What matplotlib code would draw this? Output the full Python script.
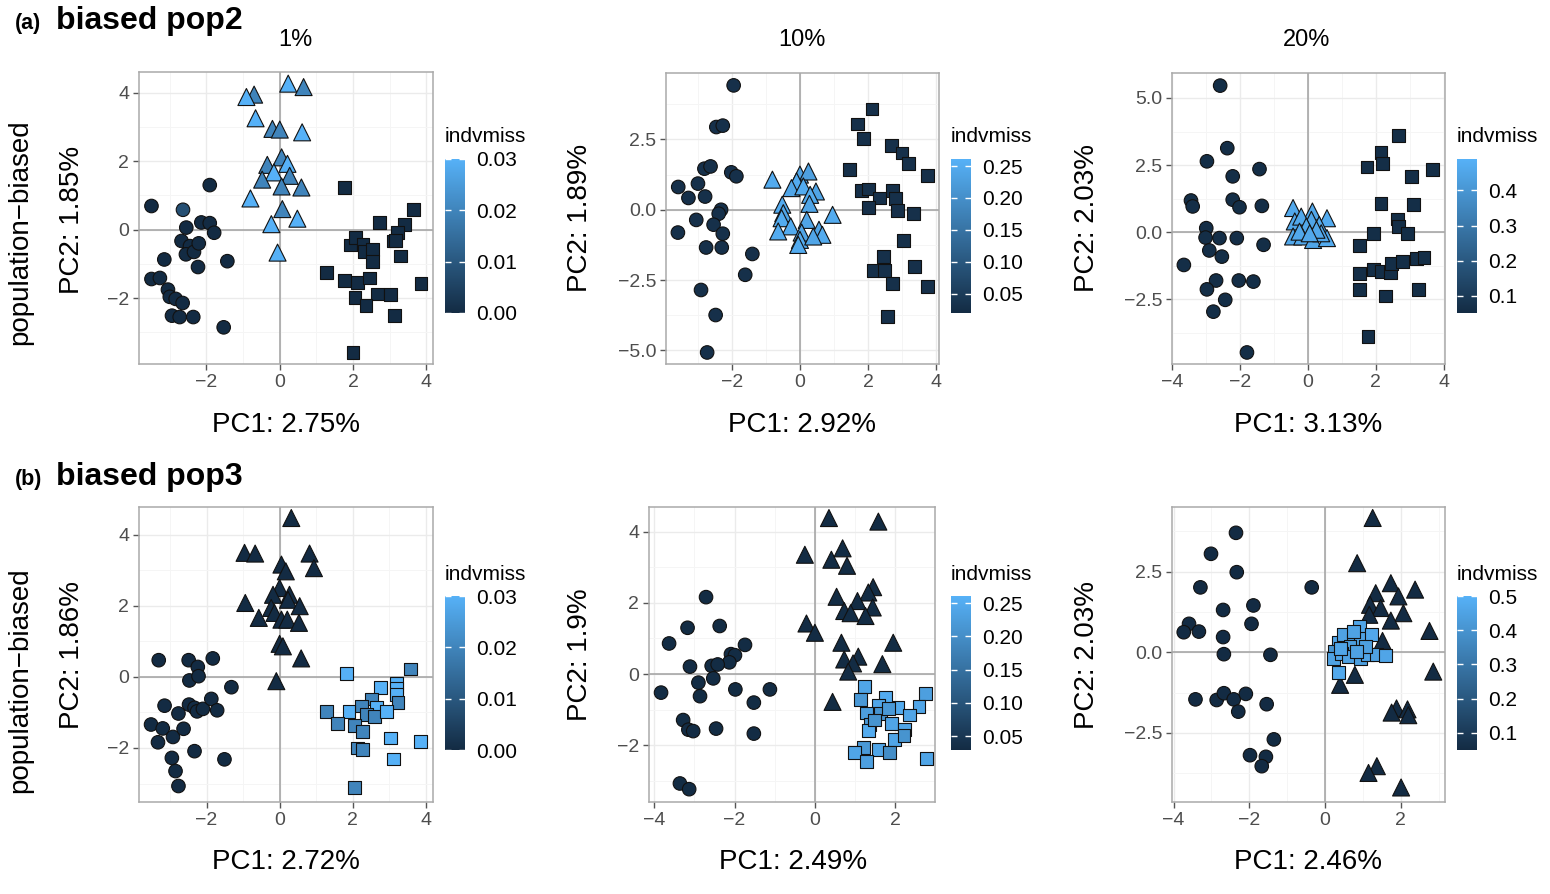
import matplotlib
matplotlib.use('Agg')
import matplotlib.pyplot as plt
from matplotlib.colors import LinearSegmentedColormap, Normalize
from matplotlib.cm import ScalarMappable

plt.rcParams['font.family'] = ['Liberation Sans', 'DejaVu Sans']

# ---- data: (PC1, PC2, indvmiss) per sample, grouped by population shape ----
# (a) biased pop2, 1%
a1_circles = [(-3.50, 0.69, 0.0), (-2.64, 0.58, 0.008), (-1.91, 1.30, 0.0), (-3.15, -0.87, 0.0),
              (-3.50, -1.44, 0.0), (-3.27, -1.41, 0.0), (-3.05, -1.75, 0.0), (-3.00, -1.96, 0.0),
              (-2.84, -2.02, 0.0), (-2.65, -2.14, 0.0), (-2.94, -2.51, 0.0), (-2.73, -2.55, 0.0),
              (-2.36, -2.55, 0.0), (-1.53, -2.85, 0.0), (-2.55, 0.06, 0.0), (-2.68, -0.33, 0.0),
              (-2.45, -0.48, 0.0), (-2.56, -0.72, 0.0), (-2.34, -0.65, 0.0), (-2.21, -0.40, 0.0),
              (-2.14, 0.21, 0.0), (-1.91, 0.19, 0.0), (-1.79, -0.09, 0.0), (-2.23, -1.09, 0.0),
              (-1.43, -0.92, 0.0)]
a1_triangles = [(-0.70, 3.94, 0.02), (-0.91, 3.87, 0.03), (0.23, 4.26, 0.03), (0.65, 4.16, 0.02),
                (-0.66, 3.25, 0.03), (-0.20, 2.94, 0.02), (0.00, 2.92, 0.02), (0.61, 2.84, 0.03),
                (0.05, 2.11, 0.02), (-0.34, 1.89, 0.02), (0.21, 1.92, 0.03), (-0.16, 1.67, 0.03),
                (0.27, 1.57, 0.02), (-0.48, 1.46, 0.02), (0.05, 1.26, 0.02), (0.59, 1.23, 0.02),
                (-0.80, 0.91, 0.03), (0.07, 0.60, 0.02), (0.48, 0.32, 0.03), (-0.23, 0.16, 0.03),
                (-0.06, -0.67, 0.03)]
a1_squares = [(1.77, 1.23, 0.0), (2.71, 0.21, 0.0), (3.65, 0.58, 0.0), (3.41, 0.16, 0.0),
              (3.21, -0.09, 0.0), (3.09, -0.33, 0.0), (3.16, -0.31, 0.0), (3.30, -0.77, 0.0),
              (1.93, -0.45, 0.0), (2.07, -0.23, 0.0), (2.27, -0.43, 0.0), (2.30, -0.63, 0.0),
              (2.53, -0.58, 0.0), (2.52, -0.92, 0.0), (1.27, -1.26, 0.0), (1.77, -1.48, 0.0),
              (2.12, -1.55, 0.0), (2.45, -1.41, 0.0), (3.85, -1.58, 0.0), (2.66, -1.88, 0.0),
              (3.02, -1.90, 0.0), (2.05, -1.99, 0.0), (2.35, -2.22, 0.0), (3.12, -2.51, 0.0),
              (2.00, -3.58, 0.0)]

# (a) biased pop2, 10%
a2_circles = [(-1.95, 4.42, 0.03), (-2.46, 2.94, 0.03), (-2.27, 2.99, 0.03), (-2.81, 1.46, 0.03),
              (-2.63, 1.54, 0.03), (-3.00, 0.93, 0.03), (-3.58, 0.81, 0.03), (-3.28, 0.42, 0.03),
              (-2.79, 0.47, 0.03), (-2.02, 1.33, 0.03), (-1.87, 1.19, 0.03), (-2.32, 0.00, 0.03),
              (-2.39, -0.14, 0.03), (-3.05, -0.36, 0.03), (-2.54, -0.53, 0.03), (-3.59, -0.81, 0.03),
              (-2.27, -0.85, 0.03), (-2.76, -1.34, 0.03), (-2.30, -1.34, 0.03), (-1.40, -1.57, 0.03),
              (-1.61, -2.31, 0.03), (-2.91, -2.85, 0.03), (-2.48, -3.74, 0.03), (-2.73, -5.07, 0.03)]
a2_triangles = [(-0.81, 1.07, 0.25), (0.00, 1.25, 0.24), (0.25, 1.36, 0.23), (-0.10, 1.01, 0.25),
                (-0.25, 0.77, 0.24), (0.10, 0.83, 0.25), (0.47, 0.65, 0.24), (0.30, 0.53, 0.25),
                (0.28, 0.21, 0.24), (-0.52, 0.18, 0.25), (-0.49, -0.12, 0.24), (-0.54, -0.30, 0.25),
                (0.96, -0.18, 0.25), (0.20, -0.36, 0.24), (-0.27, -0.59, 0.25), (-0.64, -0.77, 0.25),
                (0.56, -0.71, 0.24), (0.66, -0.89, 0.25), (0.05, -0.81, 0.24), (0.00, -1.07, 0.25),
                (-0.05, -1.25, 0.25), (0.39, -0.95, 0.24)]
a2_squares = [(2.12, 3.58, 0.03), (1.70, 3.05, 0.03), (1.87, 2.53, 0.03), (2.69, 2.29, 0.03),
              (3.00, 2.02, 0.03), (3.20, 1.64, 0.03), (3.76, 1.21, 0.03), (1.45, 1.42, 0.03),
              (1.80, 0.68, 0.03), (2.02, 0.74, 0.03), (2.73, 0.68, 0.03), (2.33, 0.42, 0.03),
              (2.81, 0.39, 0.03), (2.02, 0.09, 0.03), (2.88, -0.02, 0.03), (3.35, -0.12, 0.03),
              (3.05, -1.10, 0.03), (2.46, -1.66, 0.03), (2.15, -2.16, 0.03), (2.48, -2.16, 0.03),
              (3.38, -2.02, 0.03), (2.73, -2.63, 0.03), (3.76, -2.73, 0.03), (2.58, -3.80, 0.03)]

# (a) biased pop2, 20%
a3_circles = [(-2.59, 5.46, 0.06), (-2.38, 3.13, 0.06), (-2.98, 2.64, 0.06), (-2.22, 2.08, 0.06),
              (-1.43, 2.35, 0.06), (-3.45, 1.18, 0.06), (-3.40, 0.96, 0.06), (-2.22, 1.21, 0.06),
              (-2.02, 0.93, 0.06), (-1.36, 0.98, 0.06), (-3.00, 0.15, 0.06), (-3.02, -0.20, 0.06),
              (-2.61, -0.22, 0.06), (-2.10, -0.22, 0.06), (-1.31, -0.47, 0.06), (-2.91, -0.68, 0.06),
              (-2.54, -0.91, 0.06), (-3.66, -1.22, 0.06), (-2.71, -1.80, 0.06), (-2.98, -2.13, 0.06),
              (-2.04, -1.80, 0.06), (-1.61, -1.84, 0.06), (-2.44, -2.52, 0.06), (-2.79, -2.96, 0.06),
              (-1.80, -4.48, 0.06)]
a3_triangles = [(-0.44, 0.90, 0.46), (0.13, 0.77, 0.46), (0.56, 0.52, 0.47), (-0.39, 0.40, 0.46),
                (0.10, 0.46, 0.45), (-0.20, 0.58, 0.46), (-0.05, 0.21, 0.46), (0.33, 0.27, 0.47),
                (-0.44, -0.16, 0.46), (-0.17, -0.16, 0.46), (0.15, -0.29, 0.45), (0.56, -0.22, 0.47),
                (0.39, -0.04, 0.46), (0.25, 0.09, 0.46), (-0.25, 0.02, 0.46), (0.05, -0.04, 0.46)]
a3_squares = [(2.68, 3.59, 0.06), (2.15, 2.97, 0.06), (2.19, 2.57, 0.06), (1.74, 2.43, 0.06),
              (3.67, 2.33, 0.06), (3.05, 2.08, 0.06), (2.15, 1.08, 0.06), (3.10, 1.02, 0.06),
              (2.64, 0.49, 0.06), (2.66, 0.21, 0.06), (2.93, -0.04, 0.06), (1.94, -0.06, 0.06),
              (1.51, -0.51, 0.06), (1.53, -1.53, 0.06), (1.92, -1.38, 0.06), (2.17, -1.47, 0.06),
              (2.43, -1.50, 0.06), (2.46, -1.18, 0.06), (2.78, -1.09, 0.06), (3.20, -0.97, 0.06),
              (3.42, -0.95, 0.06), (1.53, -2.13, 0.06), (2.29, -2.38, 0.06), (3.25, -2.13, 0.06),
              (1.77, -3.89, 0.06)]

# (b) biased pop3, 1%
b1_circles = [(-3.31, 0.47, 0.0), (-2.49, 0.47, 0.0), (-2.24, 0.28, 0.0), (-1.83, 0.52, 0.0),
              (-2.47, -0.10, 0.0), (-2.22, 0.02, 0.0), (-1.32, -0.29, 0.0), (-3.15, -0.81, 0.0),
              (-2.77, -1.03, 0.0), (-2.48, -0.78, 0.0), (-2.33, -0.87, 0.0), (-2.26, -0.97, 0.0),
              (-2.10, -0.90, 0.0), (-1.87, -0.62, 0.0), (-1.71, -0.94, 0.0), (-3.52, -1.34, 0.0),
              (-3.20, -1.45, 0.0), (-2.92, -1.69, 0.0), (-2.63, -1.46, 0.0), (-3.33, -1.84, 0.0),
              (-2.33, -2.09, 0.0), (-2.95, -2.28, 0.0), (-2.85, -2.65, 0.0), (-2.77, -3.07, 0.0),
              (-1.51, -2.32, 0.0)]
b1_triangles = [(0.32, 4.47, 0.0), (-0.96, 3.49, 0.0), (-0.67, 3.47, 0.0), (0.82, 3.47, 0.0),
                (0.05, 3.16, 0.0), (0.17, 2.97, 0.0), (0.94, 3.06, 0.0), (0.00, 2.50, 0.0),
                (-0.18, 2.31, 0.0), (0.27, 2.31, 0.0), (0.23, 2.17, 0.0), (-0.94, 2.08, 0.0),
                (0.55, 1.99, 0.0), (-0.23, 1.94, 0.0), (-0.14, 1.80, 0.0), (-0.57, 1.66, 0.0),
                (0.05, 1.61, 0.0), (0.21, 1.61, 0.0), (0.53, 1.52, 0.0), (0.00, 0.93, 0.0),
                (0.09, 0.86, 0.0), (0.59, 0.52, 0.0), (-0.09, -0.12, 0.0)]
b1_squares = [(1.83, 0.09, 0.03), (3.58, 0.22, 0.02), (3.20, -0.17, 0.03), (2.77, -0.29, 0.03),
              (3.21, -0.31, 0.03), (3.20, -0.50, 0.03), (3.24, -0.73, 0.02), (2.51, -0.62, 0.02),
              (2.24, -0.82, 0.02), (2.65, -0.87, 0.03), (2.37, -1.06, 0.02), (2.60, -1.11, 0.02),
              (2.92, -0.98, 0.03), (1.90, -0.97, 0.03), (1.28, -0.97, 0.02), (1.58, -1.31, 0.02),
              (2.05, -1.36, 0.02), (2.28, -1.53, 0.02), (3.04, -1.72, 0.03), (3.85, -1.81, 0.03),
              (2.13, -2.00, 0.02), (2.28, -2.04, 0.02), (3.11, -2.31, 0.03), (2.05, -3.12, 0.02)]

# (b) biased pop3, 10%
b2_circles = [(-2.71, 2.16, 0.03), (-3.63, 0.86, 0.03), (-3.17, 1.30, 0.03), (-2.37, 1.35, 0.03),
              (-1.74, 0.82, 0.03), (-2.09, 0.56, 0.03), (-1.99, 0.53, 0.03), (-2.13, 0.33, 0.03),
              (-3.11, 0.21, 0.03), (-2.57, 0.23, 0.03), (-2.42, 0.27, 0.03), (-2.53, -0.12, 0.03),
              (-2.90, -0.24, 0.03), (-3.83, -0.52, 0.03), (-2.86, -0.62, 0.03), (-1.98, -0.43, 0.03),
              (-1.12, -0.43, 0.03), (-1.52, -0.80, 0.03), (-3.28, -1.29, 0.03), (-3.15, -1.56, 0.03),
              (-3.03, -1.60, 0.03), (-2.46, -1.53, 0.03), (-1.52, -1.67, 0.03), (-3.36, -3.07, 0.03),
              (-3.13, -3.23, 0.03)]
b2_triangles = [(0.35, 4.38, 0.03), (1.58, 4.28, 0.03), (-0.25, 3.35, 0.03), (0.41, 3.21, 0.03),
                (0.69, 3.53, 0.03), (0.80, 3.04, 0.03), (1.45, 2.44, 0.03), (1.33, 2.29, 0.03),
                (0.54, 2.17, 0.03), (1.06, 2.05, 0.03), (1.44, 1.87, 0.03), (0.73, 1.77, 0.03),
                (0.89, 1.71, 0.03), (1.26, 1.63, 0.03), (-0.21, 1.42, 0.03), (0.00, 1.16, 0.03),
                (0.66, 0.88, 0.03), (1.95, 0.88, 0.03), (0.73, 0.41, 0.03), (1.08, 0.49, 0.03),
                (0.95, 0.30, 0.03), (1.68, 0.28, 0.03), (0.83, 0.07, 0.03), (0.44, -0.78, 0.03)]
b2_squares = [(1.23, -0.34, 0.24), (1.14, -0.71, 0.22), (2.76, -0.54, 0.23), (1.76, -0.66, 0.25),
              (1.59, -0.87, 0.24), (2.07, -0.94, 0.25), (2.59, -0.90, 0.24), (1.29, -1.09, 0.23),
              (1.64, -1.11, 0.21), (1.83, -0.97, 0.22), (2.35, -1.15, 0.24), (1.37, -1.41, 0.22),
              (1.91, -1.39, 0.24), (2.24, -1.56, 0.24), (1.33, -1.59, 0.25), (1.99, -1.84, 0.24),
              (1.20, -2.06, 0.22), (0.98, -2.21, 0.24), (1.58, -2.12, 0.24), (1.85, -2.21, 0.20),
              (1.29, -2.45, 0.23), (2.78, -2.37, 0.24), (2.22, -1.72, 0.21), (1.49, -1.29, 0.21)]

# (b) biased pop3, 20%
b3_circles = [(-2.35, 3.70, 0.05), (-3.01, 3.05, 0.05), (-2.33, 2.48, 0.05), (-3.29, 2.01, 0.05),
              (-0.35, 2.01, 0.05), (-2.69, 1.31, 0.05), (-1.89, 1.45, 0.05), (-3.59, 0.88, 0.05),
              (-3.73, 0.62, 0.05), (-3.33, 0.64, 0.05), (-1.94, 0.88, 0.05), (-2.69, 0.47, 0.05),
              (-2.67, -0.06, 0.05), (-1.44, -0.08, 0.05), (-3.42, -1.46, 0.05), (-2.86, -1.48, 0.05),
              (-2.67, -1.27, 0.05), (-2.41, -1.46, 0.05), (-2.09, -1.29, 0.05), (-2.29, -1.84, 0.05),
              (-1.54, -1.61, 0.05), (-1.35, -2.70, 0.05), (-1.98, -3.19, 0.05), (-1.56, -3.24, 0.05),
              (-1.67, -3.53, 0.05)]
b3_triangles = [(1.26, 4.16, 0.05), (0.85, 2.76, 0.05), (1.74, 2.14, 0.05), (2.38, 1.94, 0.05),
                (1.34, 1.83, 0.05), (1.94, 1.73, 0.05), (1.19, 1.47, 0.05), (1.47, 1.37, 0.05),
                (2.07, 1.21, 0.05), (1.17, 1.16, 0.05), (1.74, 0.98, 0.05), (2.76, 0.66, 0.05),
                (1.52, 0.35, 0.05), (0.79, -0.70, 0.05), (0.40, -1.01, 0.05), (2.86, -0.60, 0.05),
                (1.89, -1.74, 0.05), (1.76, -1.87, 0.05), (2.18, -1.77, 0.05), (2.20, -1.95, 0.05),
                (1.37, -3.53, 0.05), (1.15, -3.74, 0.05), (2.01, -4.19, 0.05)]
b3_squares = [(0.35, 0.30, 0.46), (0.48, 0.54, 0.45), (0.75, 0.38, 0.44), (0.91, 0.80, 0.46),
              (0.94, 0.43, 0.45), (1.23, 0.54, 0.47), (0.66, 0.18, 0.44), (0.26, 0.02, 0.40),
              (0.22, -0.19, 0.45), (0.44, -0.03, 0.46), (0.62, -0.13, 0.45), (0.93, -0.19, 0.44),
              (1.12, -0.08, 0.46), (1.37, -0.08, 0.45), (1.59, -0.10, 0.46), (0.35, -0.63, 0.47),
              (0.75, 0.64, 0.45), (1.06, 0.18, 0.44), (0.84, 0.02, 0.45), (0.40, 0.12, 0.46)]

# axis titles and colour ranges
pc1_labels = ['PC1: 2.75%', 'PC1: 2.92%', 'PC1: 3.13%', 'PC1: 2.72%', 'PC1: 2.49%', 'PC1: 2.46%']
pc2_labels = ['PC2: 1.85%', 'PC2: 1.89%', 'PC2: 2.03%', 'PC2: 1.86%', 'PC2: 1.9%', 'PC2: 2.03%']
col_titles = ['1%', '10%', '20%']
miss_ranges = [(0.0, 0.03), (0.02, 0.261), (0.05, 0.49), (0.0, 0.03), (0.029, 0.261), (0.05, 0.5)]
miss_ticks = [[0.0, 0.01, 0.02, 0.03], [0.05, 0.10, 0.15, 0.20, 0.25], [0.1, 0.2, 0.3, 0.4],
              [0.0, 0.01, 0.02, 0.03], [0.05, 0.10, 0.15, 0.20, 0.25], [0.1, 0.2, 0.3, 0.4, 0.5]]
miss_ticklabels = [['0.00', '0.01', '0.02', '0.03'], ['0.05', '0.10', '0.15', '0.20', '0.25'],
                   ['0.1', '0.2', '0.3', '0.4'], ['0.00', '0.01', '0.02', '0.03'],
                   ['0.05', '0.10', '0.15', '0.20', '0.25'], ['0.1', '0.2', '0.3', '0.4', '0.5']]

W, H = 1550, 894
fig = plt.figure(figsize=(W / 100, H / 100), dpi=100)
cmap = LinearSegmentedColormap.from_list('gg', ['#132B43', '#56B1F7'])
MINUS = '\u2212'


def px_axes(l, t, r, b):
    return fig.add_axes([l / W, 1 - b / H, (r - l) / W, (b - t) / H])


def fmt(v, dec):
    s = f'{abs(v):.{dec}f}' if dec else f'{abs(v):.0f}'
    return (MINUS + s) if v < 0 else s


def panel(box, cbox, groups, xlim, ylim, xticks, yticks, ydec, k):
    ax = px_axes(*box)
    norm = Normalize(*miss_ranges[k])
    for pts, mk, s in zip(groups, ['o', '^', 's'], [95, 150, 85]):
        xs = [p[0] for p in pts]
        ys = [p[1] for p in pts]
        ms = [p[2] for p in pts]
        ax.scatter(xs, ys, c=ms, cmap=cmap, norm=norm, marker=mk, s=s,
                   edgecolors='#111111', linewidths=0.8, zorder=3)
    ax.set_xticks(xticks)
    ax.set_xticklabels([fmt(v, 0) for v in xticks])
    ax.set_yticks(yticks)
    ax.set_yticklabels([fmt(v, ydec) for v in yticks])
    dx = (xticks[1] - xticks[0]) / 2
    dy = (yticks[1] - yticks[0]) / 2
    ax.set_xticks([v - dx for v in xticks] + [xticks[-1] + dx], minor=True)
    ax.set_yticks([v - dy for v in yticks] + [yticks[-1] + dy], minor=True)
    # limits after ticks, since set_ticks widens the view
    ax.set_xlim(*xlim)
    ax.set_ylim(*ylim)
    ax.grid(which='major', color='#EBEBEB', lw=1.0, zorder=0)
    ax.grid(which='minor', color='#F5F5F5', lw=0.7, zorder=0)
    ax.set_axisbelow(True)
    ax.axhline(0, color='#A0A0A0', lw=1.1, zorder=1)
    ax.axvline(0, color='#A0A0A0', lw=1.1, zorder=1)
    for sp in ax.spines.values():
        sp.set_color('#AAAAAA')
        sp.set_linewidth(1.1)
    ax.tick_params(which='major', direction='out', length=4, width=1, color='#555555',
                   labelsize=14, labelcolor='#4D4D4D', pad=3)
    ax.tick_params(which='minor', length=0)

    cax = px_axes(*cbox)
    cb = fig.colorbar(ScalarMappable(norm=norm, cmap=cmap), cax=cax)
    cb.outline.set_visible(False)
    cb.set_ticks(miss_ticks[k])
    cb.set_ticklabels(miss_ticklabels[k])
    cax.tick_params(direction='in', length=4, width=1, color='white', left=True, right=True,
                    labelleft=False, labelright=True, labelsize=15, labelcolor='black', pad=8)
    fig.text(cbox[0] / W, 1 - (cbox[1] - 22) / H, 'indvmiss', fontsize=15, ha='left', va='center')
    return ax


panel((139, 72, 433, 364), (445, 159, 465, 313), [a1_circles, a1_triangles, a1_squares],
      (-3.84, 4.18), (-3.92, 4.6), [-2, 0, 2, 4], [-2, 0, 2, 4], 0, 0)
panel((666, 73, 939, 364), (951, 159, 971, 313), [a2_circles, a2_triangles, a2_squares],
      (-3.94, 4.09), (-5.48, 4.86), [-2, 0, 2, 4], [-5.0, -2.5, 0.0, 2.5], 1, 1)
panel((1172, 73, 1445, 364), (1457, 159, 1477, 313), [a3_circles, a3_triangles, a3_squares],
      (-4.01, 4.04), (-4.91, 5.93), [-4, -2, 0, 2, 4], [-2.5, 0.0, 2.5, 5.0], 1, 2)
panel((139, 507, 433, 802), (445, 596, 465, 750), [b1_circles, b1_triangles, b1_squares],
      (-3.85, 4.2), (-3.52, 4.78), [-2, 0, 2, 4], [-2, 0, 2, 4], 0, 3)
panel((649, 507, 935, 802), (951, 596, 971, 750), [b2_circles, b2_triangles, b2_squares],
      (-4.13, 2.99), (-3.59, 4.69), [-4, -2, 0, 2], [-2, 0, 2, 4], 0, 4)
panel((1172, 507, 1445, 802), (1457, 596, 1477, 750), [b3_circles, b3_triangles, b3_squares],
      (-4.04, 3.17), (-4.64, 4.50), [-4, -2, 0, 2], [-2.5, 0.0, 2.5], 1, 5)

# axis titles
xlab_pos = [(286, 425), (802, 425), (1308, 425), (286, 862), (793, 862), (1308, 862)]
ylab_pos = [(72, 220), (580, 218), (1087, 218), (72, 655), (580, 655), (1087, 655)]
for i in range(6):
    fig.text(xlab_pos[i][0] / W, 1 - xlab_pos[i][1] / H, pc1_labels[i], fontsize=20,
             ha='center', va='center')
    fig.text(ylab_pos[i][0] / W, 1 - ylab_pos[i][1] / H, pc2_labels[i], fontsize=20,
             ha='center', va='center', rotation=90)

for x, t in zip([295, 802, 1307], col_titles):
    fig.text(x / W, 1 - 40 / H, t, fontsize=17, ha='center', va='center')

fig.text(15 / W, 1 - 23 / H, '(a)', fontsize=15.5, fontweight='bold', ha='left', va='center')
fig.text(56 / W, 1 - 21 / H, 'biased pop2', fontsize=23, fontweight='bold', ha='left', va='center')
fig.text(15 / W, 1 - 479 / H, '(b)', fontsize=15.5, fontweight='bold', ha='left', va='center')
fig.text(56 / W, 1 - 477 / H, 'biased pop3', fontsize=23, fontweight='bold', ha='left', va='center')

for y in [232, 680]:
    fig.text(20 / W, 1 - y / H, 'population' + MINUS + 'biased', fontsize=20,
             ha='center', va='center', rotation=90)

fig.savefig('out.png', dpi=100)
